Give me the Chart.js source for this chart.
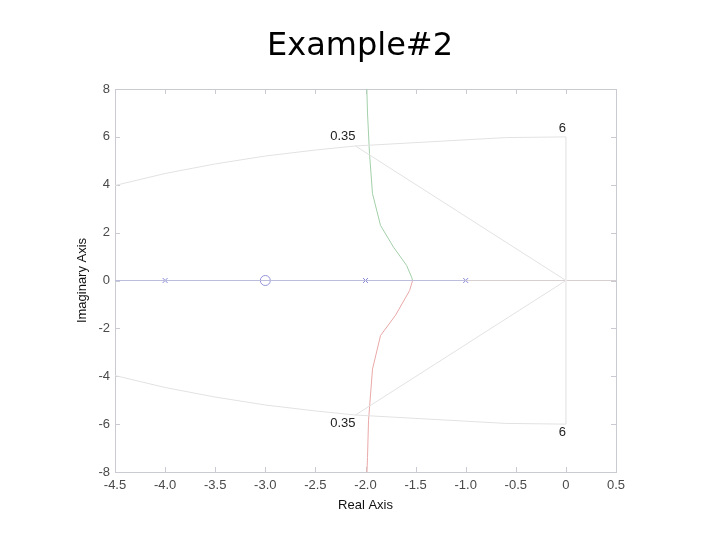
<!DOCTYPE html>
<html><head><meta charset="utf-8">
<script src="https://cdn.jsdelivr.net/npm/chart.js@4.4.0/dist/chart.umd.min.js"></script>
<style>html,body{margin:0;padding:0;background:#fff;}</style>
</head><body>
<canvas id="c" width="720" height="540"></canvas>
<script>
// ---- data ----
const titleText = 'Example#2';
const xAxisTitle = 'Real Axis';
const yAxisTitle = 'Imaginary Axis';
const xTickValues = [-4.5, -4, -3.5, -3, -2.5, -2, -1.5, -1, -0.5, 0, 0.5];
const yTickValues = [-8, -6, -4, -2, 0, 2, 4, 6, 8];

const poleX = [-4, -2, -1];
const poleY = [0, 0, 0];
const zeroX = [-3];
const zeroY = [0];

const upperBranchX = [-1.53, -1.54, -1.59, -1.72, -1.85, -1.93, -1.96, -1.98, -1.99];
const upperBranchY = [0, 0.14, 0.63, 1.39, 2.30, 3.63, 5.30, 7.0, 8.5];
const lowerBranchX = [-1.53, -1.56, -1.70, -1.85, -1.93, -1.97, -1.98, -1.99];
const lowerBranchY = [0, -0.42, -1.45, -2.30, -3.70, -5.86, -7.4, -8.5];

const realAxisBlueX = [-4.5, -1];
const realAxisBlueY = [0, 0];
const realAxisGreyX = [-1, 0.5];
const realAxisGreyY = [0, 0];

// sgrid: natural frequency 6 (upper and lower arcs), imaginary segment, damping 0.35 rays
const wnArcX = [-4.6, -4.5, -4.0, -3.5, -3.0, -2.5, -2.1, -0.6, 0];
const wnArcTopY = [3.85, 3.97, 4.47, 4.87, 5.2, 5.45, 5.62, 5.97, 6];
const wnArcBotY = [-3.85, -3.97, -4.47, -4.87, -5.2, -5.45, -5.62, -5.97, -6];
const wnSegX = [0, 0];
const wnSegY = [6, -6];
const zetaTopX = [0, -2.1];
const zetaTopY = [0, 5.62];
const zetaBotX = [0, -2.1];
const zetaBotY = [0, -5.62];

const gridLabelText = ['0.35', '0.35', '6', '6'];
const gridLabelX = [-2.1, -2.1, 0, 0];
const gridLabelY = [6.0, -5.98, 6.37, -6.35];

// ---- helpers ----
const zip = (xs, ys) => xs.map((v, i) => ({x: v, y: ys[i]}));
const lineSet = (xs, ys, color) => ({
  data: zip(xs, ys), showLine: true, borderColor: color, borderWidth: 1,
  pointRadius: 0, tension: 0, fill: false, yAxisID: 'y'
});

const frame = {
  id: 'frame',
  beforeDatasetsDraw(chart) {
    const {ctx, chartArea: a, scales: {x, y}} = chart;
    ctx.save();
    ctx.strokeStyle = '#cacad2';
    ctx.lineWidth = 1;
    ctx.strokeRect(Math.round(a.left) + 0.5, Math.round(a.top) + 0.5,
      Math.round(a.right - a.left), Math.round(a.bottom - a.top));
    ctx.beginPath();
    x.ticks.forEach(t => {
      const px = Math.round(x.getPixelForValue(t.value)) + 0.5;
      ctx.moveTo(px, a.bottom); ctx.lineTo(px, a.bottom - 5);
      ctx.moveTo(px, a.top); ctx.lineTo(px, a.top + 5);
    });
    y.ticks.forEach(t => {
      const py = Math.round(y.getPixelForValue(t.value)) + 0.5;
      ctx.moveTo(a.left, py); ctx.lineTo(a.left + 5, py);
      ctx.moveTo(a.right, py); ctx.lineTo(a.right - 5, py);
    });
    ctx.stroke();
    ctx.restore();
  },
  afterDatasetsDraw(chart) {
    const {ctx, scales: {x, y}} = chart;
    ctx.save();
    ctx.font = '13px "Liberation Sans", Arial, sans-serif';
    ctx.fillStyle = '#222';
    ctx.textAlign = 'right';
    ctx.textBaseline = 'middle';
    gridLabelText.forEach((t, i) => {
      ctx.fillText(t, x.getPixelForValue(gridLabelX[i]), y.getPixelForValue(gridLabelY[i]));
    });
    ctx.restore();
  }
};

const tickFont = {family: '"Liberation Sans", Arial, sans-serif', size: 13};

new Chart(document.getElementById('c'), {
  type: 'scatter',
  data: {
    datasets: [
      lineSet(wnArcX, wnArcTopY, '#e2e2e2'),
      lineSet(wnArcX, wnArcBotY, '#e2e2e2'),
      lineSet(wnSegX, wnSegY, '#ededed'),
      lineSet(zetaTopX, zetaTopY, '#e2e2e2'),
      lineSet(zetaBotX, zetaBotY, '#e2e2e2'),
      lineSet(realAxisGreyX, realAxisGreyY, '#d8d0d0'),
      lineSet(realAxisBlueX, realAxisBlueY, '#bcbcdc'),
      lineSet(upperBranchX, upperBranchY, '#a2d0aa'),
      lineSet(lowerBranchX, lowerBranchY, '#eaa8a8'),
      {data: zip(poleX, poleY), showLine: false, pointStyle: 'crossRot', pointRadius: 3.5,
       borderColor: '#8888d6', borderWidth: 1, yAxisID: 'y'},
      {data: zip(zeroX, zeroY), showLine: false, pointStyle: 'circle', pointRadius: 5,
       borderColor: '#9494d8', backgroundColor: 'rgba(0,0,0,0)', borderWidth: 1, yAxisID: 'y'}
    ]
  },
  options: {
    responsive: false,
    animation: false,
    devicePixelRatio: 1,
    layout: {padding: 0},
    plugins: {
      legend: {display: false},
      tooltip: {enabled: false},
      title: {
        display: true, text: titleText, color: '#000',
        font: {family: '"DejaVu Sans", sans-serif', size: 32, weight: 'normal', lineHeight: 1.2},
        padding: {top: 27, bottom: 23.6}
      }
    },
    scales: {
      x: {
        type: 'linear', min: -4.5, max: 0.5,
        afterBuildTicks: s => { s.ticks = xTickValues.map(v => ({value: v})); },
        afterFit: s => { s.height = 68; s.paddingLeft = 0; s.paddingRight = 0; },
        grid: {display: false, drawTicks: false},
        border: {display: false},
        ticks: {padding: 6, color: '#4a4a4a', font: tickFont},
        title: {display: true, text: xAxisTitle, color: '#111', font: tickFont, padding: {top: 0, bottom: 27}}
      },
      y: {
        type: 'linear', min: -8, max: 8, position: 'left',
        afterBuildTicks: s => { s.ticks = yTickValues.map(v => ({value: v})); },
        afterFit: s => { s.width = 115; s.paddingTop = 0; s.paddingBottom = 0; },
        grid: {display: false, drawTicks: false},
        border: {display: false},
        ticks: {padding: 5, color: '#4a4a4a', font: tickFont},
        title: {display: true, text: yAxisTitle, color: '#111', font: tickFont, padding: {top: 75, bottom: 0}}
      },
      yRight: {
        type: 'linear', min: -8, max: 8, position: 'right',
        afterFit: s => { s.width = 104; s.paddingTop = 0; s.paddingBottom = 0; },
        grid: {display: false, drawTicks: false},
        border: {display: false},
        ticks: {display: false}
      }
    }
  },
  plugins: [frame]
});
</script>
</body></html>
